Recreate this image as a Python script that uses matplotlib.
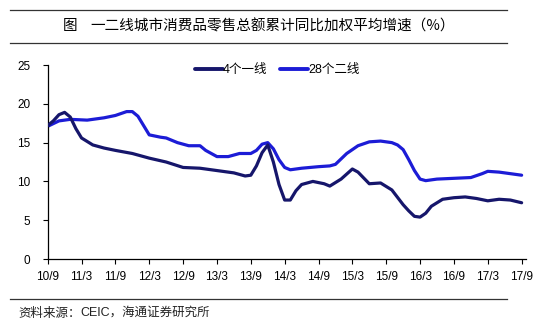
import matplotlib
matplotlib.use('Agg')
import matplotlib.pyplot as plt
from matplotlib.lines import Line2D

plt.rcParams['font.family'] = ['Liberation Sans', 'Noto Sans CJK SC', 'DejaVu Sans']

# 数据：距 2010年9月 的月数 -> 累计同比(%)
months_tier1 = [0, 1, 2, 3, 4, 5, 6, 8, 10, 12, 15, 18, 21, 24, 27, 30, 33, 35, 36,
                37, 38, 39, 40, 41, 42, 43, 44, 45, 47, 49, 50, 52, 54, 55, 57, 59,
                61, 63, 64, 65, 66, 67, 68, 70, 72, 74, 76, 78, 80, 82, 84]
tier1 = [17.2, 17.8, 18.6, 18.9, 18.3, 16.8, 15.6, 14.7, 14.3, 14.0, 13.6, 13.0,
         12.5, 11.8, 11.7, 11.4, 11.1, 10.7, 10.8, 12.0, 13.7, 14.7, 12.5, 9.6,
         7.6, 7.6, 8.8, 9.6, 10.0, 9.7, 9.4, 10.3, 11.6, 11.2, 9.7, 9.8, 8.9, 7.0,
         6.2, 5.5, 5.4, 5.9, 6.8, 7.7, 7.9, 8.0, 7.8, 7.5, 7.7, 7.6, 7.25]

months_tier2 = [0, 2, 4, 7, 10, 12, 14, 15, 16, 17, 18, 20, 21, 23, 25, 27, 28, 30,
                32, 34, 36, 37, 38, 39, 40, 41, 42, 43, 45, 48, 50, 51, 53, 55, 57,
                59, 61, 62, 63, 64, 65, 66, 67, 69, 72, 75, 77, 78, 80, 82, 84]
tier2 = [17.1, 17.8, 18.0, 17.9, 18.2, 18.5, 19.0, 19.0, 18.4, 17.2, 16.0, 15.7,
         15.6, 15.0, 14.6, 14.6, 14.0, 13.2, 13.2, 13.6, 13.6, 14.0, 14.8, 15.0,
         14.2, 12.8, 11.8, 11.5, 11.7, 11.9, 12.0, 12.2, 13.6, 14.6, 15.1, 15.2,
         15.0, 14.7, 14.1, 12.8, 11.4, 10.3, 10.1, 10.3, 10.4, 10.5, 11.0, 11.3,
         11.2, 11.0, 10.8]

tick_labels = ['10/9', '11/3', '11/9', '12/3', '12/9', '13/3', '13/9', '14/3',
               '14/9', '15/3', '15/9', '16/3', '16/9', '17/3', '17/9']

c_dark = '#16166b'
c_blue = '#1c1cd6'

fig = plt.figure(figsize=(5.57, 3.26), dpi=100)
ax = fig.add_axes([0.0856, 0.2055, 0.859, 0.595])

ax.plot(months_tier1, tier1, color=c_dark, lw=2.3, solid_capstyle='round',
        solid_joinstyle='round', label='4个一线', zorder=3)
ax.plot(months_tier2, tier2, color=c_blue, lw=2.3, solid_capstyle='round',
        solid_joinstyle='round', label='28个二线', zorder=2)

ax.set_xlim(0, 84.8)
ax.set_ylim(0, 25)
ax.set_xticks(range(0, 85, 6))
ax.set_xticklabels(tick_labels)
ax.set_yticks(range(0, 26, 5))
ax.tick_params(axis='both', direction='out', length=3.5, width=0.8, labelsize=8.5,
               colors='black')
ax.tick_params(axis='x', pad=5)
ax.tick_params(axis='y', pad=9)
for s in ['top', 'right']:
    ax.spines[s].set_visible(False)
for s in ['left', 'bottom']:
    ax.spines[s].set_linewidth(0.9)

leg = ax.legend(loc='center', ncol=2, frameon=False, handlelength=2.25,
                handletextpad=0.0, columnspacing=1.0, borderpad=0,
                prop={'family': ['Liberation Sans', 'Noto Sans CJK SC'], 'size': 9})
leg.set_bbox_to_anchor((277 / 557, 1 - 70 / 326), transform=fig.transFigure)
for h in leg.get_lines():
    h.set_linewidth(2.8)

# 标题与横线
fig.add_artist(Line2D([10 / 557, 507 / 557], [1 - 10 / 326, 1 - 10 / 326],
                      color='#333333', lw=0.9))
fig.add_artist(Line2D([10 / 557, 507 / 557], [1 - 43 / 326, 1 - 43 / 326],
                      color='#333333', lw=0.9))
fig.text(63 / 557, 1 - 26 / 326, '图', fontsize=10.5, family='Noto Sans CJK SC',
         ha='left', va='center')
fig.text(90 / 557, 1 - 26 / 326, '一二线城市消费品零售总额累计同比加权平均增速（%）',
         fontsize=10.5, family='Noto Sans CJK SC', ha='left', va='center')

fig.add_artist(Line2D([10 / 557, 507 / 557], [1 - 299 / 326, 1 - 299 / 326],
                      color='#333333', lw=0.9))
fig.text(18 / 557, 1 - 313 / 326, '资料来源：', fontsize=9,
         family=['Noto Sans CJK SC', 'DejaVu Sans'], ha='left', va='center',
         color='#222222')
fig.text(80 / 557, 1 - 313 / 326, 'CEIC，海通证券研究所', fontsize=9,
         family=['Liberation Sans', 'Noto Sans CJK SC'], ha='left', va='center',
         color='#222222')

fig.savefig('out.png', dpi=100)
